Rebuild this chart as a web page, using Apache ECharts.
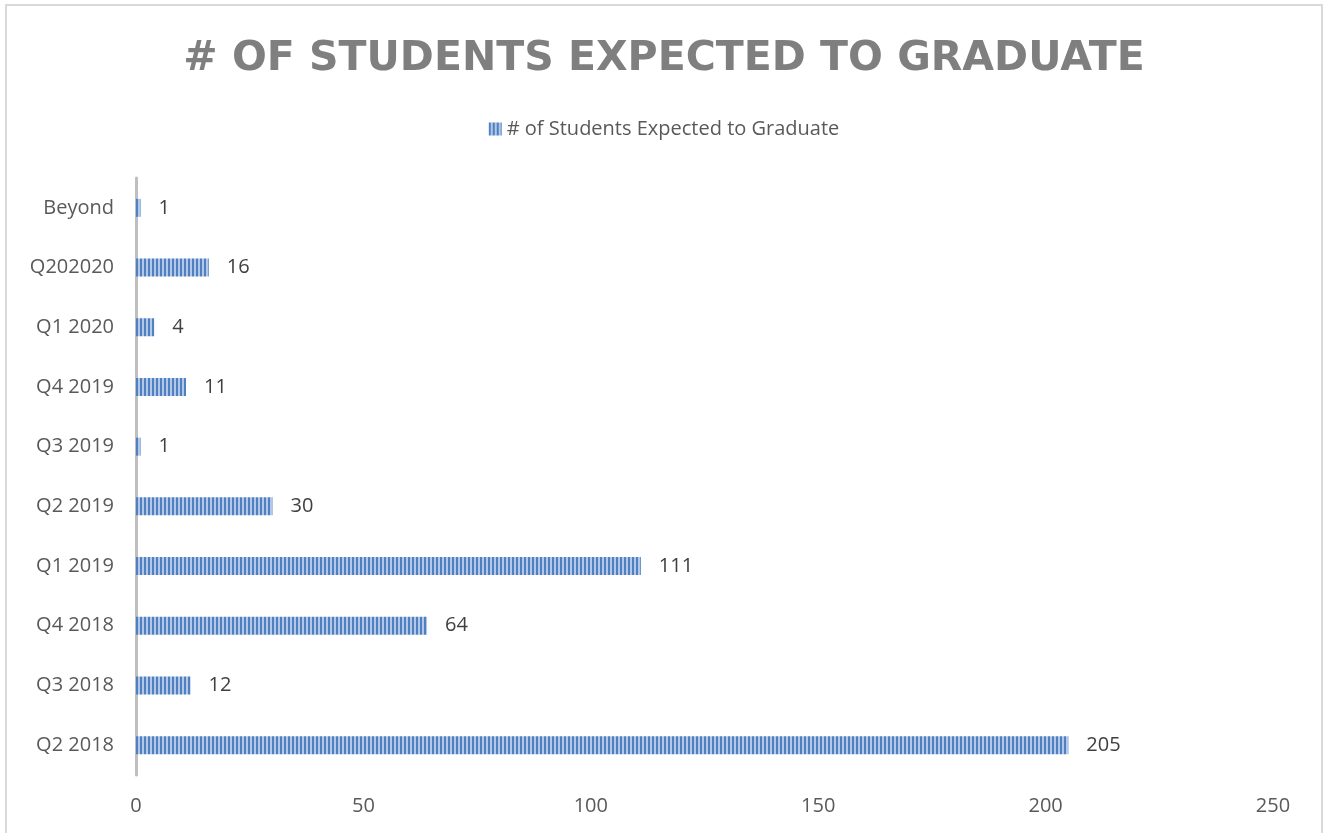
<!DOCTYPE html>
<html>
<head>
<meta charset="utf-8">
<script src="https://cdn.jsdelivr.net/npm/echarts@6/dist/echarts.min.js"></script>
<style>
html,body{margin:0;padding:0;background:#fff;}
#chart{width:1328px;height:833px;}
</style>
</head>
<body>
<div id="chart"></div>
<script>
const titleText = '# OF STUDENTS EXPECTED TO GRADUATE';
const seriesName = '# of Students Expected to Graduate';
const categories = ['Q2 2018','Q3 2018','Q4 2018','Q1 2019','Q2 2019','Q3 2019','Q4 2019','Q1 2020','Q202020','Beyond'];
const values = [205, 12, 64, 111, 30, 1, 11, 4, 16, 1];
const xTicks = [0, 50, 100, 150, 200, 250];

function makePattern() {
  const c = document.createElement('canvas');
  c.width = 4; c.height = 4;
  const ctx = c.getContext('2d');
  ctx.fillStyle = '#b3c8e8';
  ctx.fillRect(0, 0, 4, 4);
  ctx.fillStyle = '#4f80c0';
  ctx.fillRect(0, 0, 2, 4);
  return c;
}
const pattern = { image: makePattern(), repeat: 'repeat' };

const chart = echarts.init(document.getElementById('chart'), null, { renderer: 'canvas' });
chart.setOption({
  animation: false,
  backgroundColor: '#ffffff',
  graphic: [{
    type: 'rect', silent: true, z: -1,
    shape: { x: 6, y: 5, width: 1316, height: 860 },
    style: { fill: 'none', stroke: '#d9d9d9', lineWidth: 2 }
  }],
  title: {
    text: titleText,
    left: 'center',
    top: 34,
    textStyle: { fontFamily: 'DejaVu Sans', fontWeight: 'bold', fontSize: 41, color: '#7f7f7f' }
  },
  legend: {
    top: 114,
    left: 'center',
    itemWidth: 13,
    itemHeight: 13,
    itemGap: 6,
    icon: 'rect',
    textStyle: { fontFamily: 'Open Sans', fontSize: 20, color: '#595959' },
    data: [seriesName]
  },
  grid: { left: 136, right: 55, top: 178, bottom: 58, containLabel: false },
  xAxis: {
    type: 'value',
    min: xTicks[0],
    max: xTicks[xTicks.length - 1],
    interval: 50,
    axisLine: { show: false },
    axisTick: { show: false },
    splitLine: { show: false },
    axisLabel: { fontFamily: 'Open Sans', fontSize: 20, color: '#595959', margin: 21 }
  },
  yAxis: {
    type: 'category',
    data: categories,
    axisLine: { show: true, lineStyle: { color: '#bfbfbf', width: 3 } },
    axisTick: { show: false },
    axisLabel: { fontFamily: 'Open Sans', fontSize: 20, color: '#595959', margin: 22 }
  },
  series: [{
    name: seriesName,
    type: 'bar',
    data: values,
    barWidth: 18,
    itemStyle: { color: pattern },
    label: {
      show: true,
      position: 'right',
      distance: 18,
      fontFamily: 'Open Sans',
      fontSize: 20,
      color: '#404040'
    }
  }]
});
</script>
</body>
</html>
